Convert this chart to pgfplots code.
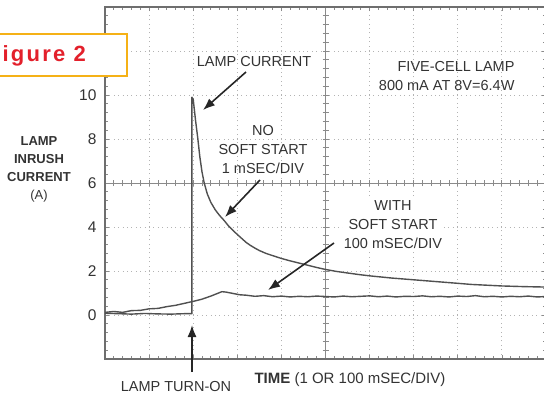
\documentclass[border=0pt]{standalone}
\usepackage{pgfplots}
\pgfplotsset{compat=1.18}
\usepackage{fontspec}
\setmainfont{Liberation Sans}
\usetikzlibrary{arrows.meta}
\definecolor{trace}{HTML}{505050}
\definecolor{grat}{HTML}{8A8A8A}
\definecolor{figorange}{HTML}{F5B116}
\definecolor{figred}{HTML}{E3202B}
\begin{document}
\begin{tikzpicture}[x=1pt,y=1pt]
\useasboundingbox (0,0) rectangle (544,400);
\clip (0,0) rectangle (544,400);
\begin{axis}[
  at={(105pt,41pt)}, anchor=south west, scale only axis,
  width=441pt, height=352pt,
  xmin=0, xmax=10, ymin=-2, ymax=14,
  clip=false,
  axis line style={draw=none},
  xtick={0,...,10}, xticklabels={},
  ytick={-2,0,...,14}, yticklabels={,0,2,4,6,8,10,,},
  minor x tick num=4, minor y tick num=4,
  tick align=inside, major tick length=4pt, minor tick length=3pt,
  tick style={grat, line width=0.8pt},
  grid=major,
  major grid style={grat!65, line width=0.9pt, dash pattern=on 1pt off 3.4pt},
  yticklabel style={font=\fontsize{15.5}{15.5}\selectfont, text=black!80, xshift=-5pt},
]
% graticule centre lines
\draw[grat, line width=1pt] (axis cs:0,6) -- (axis cs:10,6);
\draw[grat, line width=1pt] (axis cs:5,-2) -- (axis cs:5,14);
\pgfplotsinvokeforeach{0,0.2,...,10}{\draw[grat, line width=0.8pt] ([yshift=-3pt]axis cs:#1,6) -- ([yshift=3pt]axis cs:#1,6);}
\pgfplotsinvokeforeach{-2,-1.6,...,14}{\draw[grat, line width=0.8pt] ([xshift=-3pt]axis cs:5,#1) -- ([xshift=3pt]axis cs:5,#1);}
% frame
\draw[grat!80!black, line width=1.4pt] (axis cs:10.2,14) -- (axis cs:0,14) -- (axis cs:0,-2) -- (axis cs:10.2,-2);
% no soft start (1 ms/div)
\addplot[trace, line width=1.4pt, line join=round] coordinates {
(0,0.08) (0.3,0.06) (0.6,0.04) (0.9,0.07) (1.2,0.05) (1.5,0.04) (1.8,0.06) (1.97,0.06)
(1.97,9.9) (2.0,9.8) (2.05,8.9) (2.1,8.1) (2.15,7.2) (2.2,6.5) (2.25,6.0)
(2.32,5.5) (2.4,5.12) (2.5,4.78) (2.6,4.52) (2.7,4.3) (2.8,4.05) (2.9,3.85)
(3.0,3.66) (3.1,3.48) (3.2,3.3) (3.3,3.16) (3.4,3.04) (3.5,2.93) (3.65,2.8)
(3.8,2.7) (4.0,2.57) (4.2,2.46) (4.4,2.36) (4.6,2.26) (4.8,2.16) (5.0,2.07)
(5.25,1.98) (5.5,1.91) (5.75,1.84) (6.0,1.78) (6.5,1.68) (7.0,1.6) (7.5,1.52)
(8.0,1.44) (8.3,1.39) (8.7,1.35) (9.0,1.32) (9.5,1.29) (10,1.27)
};
% with soft start (100 ms/div)
\addplot[trace, line width=1.4pt, line join=round] coordinates {
(0,0.12) (0.2,0.16) (0.4,0.12) (0.6,0.2) (0.8,0.21) (1.0,0.28) (1.2,0.3)
(1.4,0.38) (1.6,0.44) (1.8,0.53) (2.0,0.62) (2.2,0.72) (2.4,0.86) (2.55,0.98)
(2.65,1.06) (2.75,1.04) (2.9,0.98) (3.05,0.92) (3.2,0.9) (3.4,0.85) (3.6,0.88)
(3.8,0.83) (4.0,0.86) (4.2,0.82) (4.4,0.85) (4.6,0.83) (4.8,0.86) (5.0,0.84)
(5.2,0.82) (5.4,0.86) (5.6,0.83) (5.8,0.85) (6.0,0.87) (6.2,0.83) (6.4,0.86)
(6.6,0.82) (6.8,0.85) (7.0,0.84) (7.2,0.87) (7.4,0.83) (7.6,0.85) (7.8,0.82)
(8.0,0.86) (8.2,0.84) (8.4,0.88) (8.6,0.83) (8.8,0.85) (9.0,0.82) (9.2,0.85)
(9.4,0.83) (9.6,0.86) (9.8,0.82) (10,0.84)
};
\end{axis}
% annotations
\begin{scope}[every node/.style={font=\fontsize{14.5}{19}\selectfont, text=black!80}]
\node at (254,338) {LAMP CURRENT};
\node[anchor=east, align=right] at (518,324) {FIVE-CELL LAMP\\800 mA AT 8V=6.4W};
\node[align=center] at (263,250) {NO\\SOFT START\\1 mSEC/DIV};
\node[align=center, fill=white, inner sep=1pt] at (393,175) {WITH\\SOFT START\\100 mSEC/DIV};
\node at (176,13) {LAMP TURN-ON};
\node[anchor=west, font=\fontsize{15}{19}\selectfont] at (251,20) {\textbf{TIME} (1 OR 100 mSEC/DIV)};
\node[align=center, font=\fontsize{13}{18}\selectfont] at (39,231) {\textbf{LAMP}\\\textbf{INRUSH}\\\textbf{CURRENT}\\(A)};
\end{scope}
\begin{scope}[line width=1.6pt, black!85, -{Latex[length=12pt,width=9pt]}]
\draw (246,328) -- (203,290);
\draw (260,220) -- (225,183);
\draw (334,157) -- (268,110);
\draw (192,28) -- (192,75);
\end{scope}
% figure tag
\draw[figorange, line width=2.5pt, fill=white] (-40,324) rectangle (127,366);
\node[anchor=base east, text=figred, inner sep=0pt, font=\fontsize{22}{22}\selectfont\bfseries\addfontfeatures{LetterSpace=10}] at (86,338) {Figure 2};
\end{tikzpicture}
\end{document}
